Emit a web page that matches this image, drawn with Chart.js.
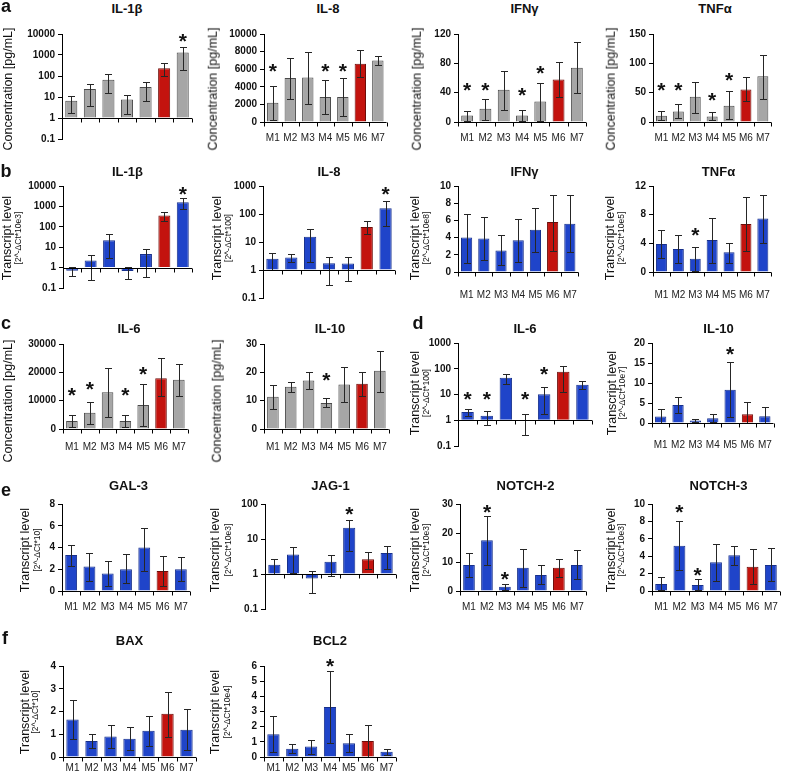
<!DOCTYPE html>
<html>
<head>
<meta charset="utf-8">
<script src="https://cdn.jsdelivr.net/npm/chart.js@4.4.0/dist/chart.umd.min.js"></script>
<style>
body { margin: 0; background: #fff; width: 787px; height: 773px; overflow: hidden; position: relative;
       font-family: "Liberation Sans", Arial, sans-serif; color: #111; }
.t { position: absolute; white-space: nowrap; line-height: 1; transform: translate(-50%, -50%); }
.r { transform: translate(-50%, -50%) rotate(-90deg); }
canvas { position: absolute; }
</style>
</head>
<body>
<script>
const months = ['M1', 'M2', 'M3', 'M4', 'M5', 'M6', 'M7'];

// a - protein, pg/mL
const il1bA = [6.6, 24, 66, 7.6, 30, 237, 1300];
const il1bALo = [1.7, 3.8, 15, 1.6, 6.6, 100, 200];
const il1bAHi = [11.5, 42, 118, 13, 50, 400, 2300];
const il1bAStar = [null, null, null, null, null, null, 8000];

const il8A = [2200, 5000, 5050, 2850, 2850, 6630, 7000];
const il8ALo = [200, 2650, 2050, 950, 650, 5060, 6440];
const il8AHi = [4100, 7250, 8000, 4750, 5050, 8130, 7450];
const il8AStar = [6400, null, null, 6400, 6400, null, null];

const ifngA = [9, 18, 44, 9, 28, 58, 74];
const ifngALo = [2, 3, 16, 2, 2, 34, 39];
const ifngAHi = [15, 32, 70, 16.5, 53, 82, 109];
const ifngAStar = [50, 50, null, 44, 73, null, null];

const tnfaA = [10.7, 18, 43, 9.5, 27.5, 55.6, 78];
const tnfaALo = [4, 7, 16, 3, 5, 35, 40];
const tnfaAHi = [18, 30, 68, 17, 53, 77, 115];
const tnfaAStar = [63, 63, null, 46, 80, null, null];

// b - transcripts
const il1bB = [0.7, 2.2, 22, 0.68, 4.6, 355, 1600];
const il1bBLo = [0.37, 0.24, 3, 0.29, 0.35, 200, 780];
const il1bBHi = [1.03, 4.1, 43, 1.07, 8.4, 510, 2500];
const il1bBStar = [null, null, null, null, null, null, 7500];

const il8B = [2.5, 2.8, 15.5, 1.75, 1.7, 34, 160];
const il8BLo = [1, 2, 2, 0.28, 0.39, 19, 37];
const il8BHi = [4.1, 3.6, 29, 3.0, 2.8, 56, 290];
const il8BStar = [null, null, null, null, null, null, 790];

const ifngB = [4.0, 3.9, 2.5, 3.7, 4.9, 5.8, 5.6];
const ifngBLo = [1.05, 1.4, 0.85, 1.2, 2.3, 2.5, 2.3];
const ifngBHi = [6.7, 6.4, 4.25, 6.2, 7.4, 9.0, 8.9];
const ifngBStar = [null, null, null, null, null, null, null];

const tnfaB = [3.9, 3.2, 1.85, 4.45, 2.75, 6.7, 7.45];
const tnfaBLo = [1.95, 1.25, 0.2, 1.25, 1.25, 2.95, 4.0];
const tnfaBHi = [5.85, 5.15, 3.55, 7.6, 4.0, 10.4, 10.8];
const tnfaBStar = [null, null, 5.8, null, null, null, null];

// c - protein
const il6C = [2840, 5700, 13000, 2840, 8500, 17900, 17400];
const il6CLo = [680, 1700, 4300, 680, 900, 11800, 11800];
const il6CHi = [4900, 9650, 21500, 5100, 16000, 25000, 23000];
const il6CStar = [13600, 16000, null, 13600, 21200, null, null];

const il10C = [11.4, 14.9, 17.1, 9.2, 15.7, 16, 20.6];
const il10CLo = [6.9, 13.2, 14, 7.7, 9.6, 11.7, 13.1];
const il10CHi = [15.7, 16.7, 20, 10.8, 21.8, 20, 27.5];
const il10CStar = [null, null, null, 19.2, null, null, null];

// d - transcripts
const il6D = [2.1, 1.5, 45, 1.0, 10.3, 77, 24];
const il6DLo = [1.5, 0.65, 25, 0.26, 1.7, 12, 17];
const il6DHi = [2.8, 2.3, 65, 1.8, 20, 130, 33];
const il6DStar = [10, 10, null, 10, 100, null, null];

const il10D = [1.65, 4.5, 0.65, 1.2, 8.3, 2.2, 1.7];
const il10DLo = [0, 2.5, 0.25, 0.2, 1.4, 0, 0];
const il10DHi = [3.45, 6.6, 1.05, 2.2, 15.2, 5.3, 3.9];
const il10DStar = [null, null, null, null, 18.4, null, null];

// e - transcripts
const gal3 = [3.3, 2.25, 1.6, 2.0, 4.0, 1.85, 2.0];
const gal3Lo = [2.3, 0.9, 0.45, 0.7, 1.85, 0.5, 0.9];
const gal3Hi = [4.2, 3.5, 2.75, 3.4, 5.8, 3.2, 3.15];
const gal3Star = [null, null, null, null, null, null, null];

const jag1 = [1.85, 3.6, 0.74, 2.25, 21, 2.65, 4.0];
const jag1Lo = [1.0, 1.04, 0.28, 0.9, 4.5, 1.36, 1.35];
const jag1Hi = [2.6, 6.0, 1.18, 3.5, 35, 4.3, 6.5];
const jag1Star = [null, null, null, null, 70, null, null];

const notch2 = [9, 17.5, 1.5, 8, 5.5, 8, 9];
const notch2Lo = [5, 9, 0.5, 1.5, 2.5, 5, 4];
const notch2Hi = [13, 26, 2.5, 14.5, 9, 11, 14];
const notch2Star = [null, 28.8, 5.8, null, null, null, null];

const notch3 = [0.8, 5.2, 0.7, 3.3, 4.1, 2.8, 3.0];
const notch3Lo = [0.1, 2.4, 0.1, 1.2, 3.0, 0.8, 1.1];
const notch3Hi = [1.6, 8.0, 1.4, 5.4, 5.2, 4.8, 4.9];
const notch3Star = [null, 9.6, 2.4, null, null, null, null];

// f - transcripts
const bax = [1.65, 0.7, 0.9, 0.8, 1.15, 1.9, 1.2];
const baxLo = [0.8, 0.4, 0.4, 0.3, 0.5, 0.9, 0.3];
const baxHi = [2.5, 1.0, 1.4, 1.3, 1.8, 2.85, 2.1];
const baxStar = [null, null, null, null, null, null, null];

const bcl2 = [1.5, 0.55, 0.7, 3.3, 0.9, 1.05, 0.35];
const bcl2Lo = [0.3, 0.25, 0.2, 0.9, 0.3, 0, 0.15];
const bcl2Hi = [2.7, 0.85, 1.15, 5.7, 1.5, 2.1, 0.55];
const bcl2Star = [null, null, null, 6.3, null, null, null];

const FONT = '"Liberation Sans", Arial, sans-serif';
const GREY = '#a6a6a6', GREY_EDGE = '#4a4a4a';
const BLUE = '#1f44c9', BLUE_EDGE = '#17308c';
const RED = '#c3130e', RED_EDGE = '#6e0c08';

function addText(txt, cx, cy, css, rotate) {
    const d = document.createElement('div');
    d.className = rotate ? 't r' : 't';
    d.textContent = txt;
    d.style.left = cx + 'px';
    d.style.top = cy + 'px';
    d.style.cssText += css;
    document.body.appendChild(d);
}

// error bars, stars and the category axis (Excel style, crossing at 0 or 1)
const decor = {
    id: 'decor',
    afterDatasetsDraw(chart, args, o) {
        const { ctx, chartArea: a } = chart;
        const y = chart.scales.y;
        const bars = chart.getDatasetMeta(0).data;
        ctx.save();
        ctx.strokeStyle = '#262626';
        ctx.lineWidth = 1;
        ctx.beginPath();
        bars.forEach((b, i) => {
            const x = Math.round(b.x) + 0.5;
            const yt = Math.round(y.getPixelForValue(o.hi[i])) + 0.5;
            const yb = Math.round(y.getPixelForValue(Math.max(o.lo[i], y.min))) + 0.5;
            ctx.moveTo(x, yt); ctx.lineTo(x, yb);
            ctx.moveTo(x - 3.5, yt); ctx.lineTo(x + 3.5, yt);
            ctx.moveTo(x - 3.5, yb); ctx.lineTo(x + 3.5, yb);
        });
        ctx.stroke();

        const cy = Math.round(y.getPixelForValue(o.cross)) + 0.5;
        ctx.strokeStyle = '#000';
        ctx.beginPath();
        ctx.moveTo(a.left, cy); ctx.lineTo(a.right, cy);
        const step = (a.right - a.left) / bars.length;
        for (let i = 0; i <= bars.length; i++) {
            const x = Math.round(a.left + i * step) + 0.5;
            ctx.moveTo(x, cy); ctx.lineTo(x, cy + 4);
        }
        ctx.stroke();

        ctx.fillStyle = '#111';
        ctx.font = 'bold 21px ' + FONT;
        ctx.textAlign = 'center';
        ctx.textBaseline = 'alphabetic';
        o.star.forEach((s, i) => {
            if (s != null) ctx.fillText('*', bars[i].x, y.getPixelForValue(s) + 0.57 * 21);
        });
        ctx.restore();
    }
};

function drawPanel(p) {
    const left = p.x0 - 48, top = p.y0 - 8;
    const bottom = Math.max(p.y1, p.ly + 8) + 2;
    const xH = bottom - p.y1;
    const cv = document.createElement('canvas');
    cv.width = p.x1 - left + 3;
    cv.height = bottom - top;
    cv.style.left = left + 'px';
    cv.style.top = top + 'px';
    document.body.appendChild(cv);

    const fill = months.map((m, i) => i === 5 ? RED : (p.grey ? GREY : BLUE));
    const edge = months.map((m, i) => i === 5 ? RED_EDGE : (p.grey ? GREY_EDGE : BLUE_EDGE));

    const yAxis = {
        type: p.log ? 'logarithmic' : 'linear',
        min: p.min,
        max: p.max,
        afterFit: s => { s.width = 48; },
        border: { display: true, color: '#000', width: 1 },
        grid: { drawOnChartArea: false, color: '#000', tickLength: 4 },
        ticks: {
            color: '#111', padding: 3,
            font: { family: FONT, size: 10, weight: 'bold' },
            callback: v => String(v)
        }
    };
    if (p.log) {
        yAxis.afterBuildTicks = s => {
            const t = [];
            for (let e = Math.round(Math.log10(p.min)); e <= Math.round(Math.log10(p.max)); e++) {
                t.push({ value: Math.pow(10, e) });
            }
            s.ticks = t;
        };
    } else {
        yAxis.ticks.stepSize = p.step;
    }

    new Chart(cv, {
        type: 'bar',
        data: {
            labels: months,
            datasets: [{
                data: p.v,
                base: p.log ? 1 : undefined,
                backgroundColor: fill,
                borderColor: edge,
                borderWidth: 1,
                barPercentage: 0.65,
                categoryPercentage: 1
            }]
        },
        options: {
            responsive: false,
            animation: false,
            devicePixelRatio: 1,
            layout: { padding: { top: 8, right: 3, left: 0, bottom: 0 } },
            plugins: {
                legend: { display: false },
                tooltip: { enabled: false },
                decor: { lo: p.lo, hi: p.hi, star: p.star, cross: p.log ? 1 : 0 }
            },
            scales: {
                x: {
                    afterFit: s => { s.height = xH; },
                    border: { display: false },
                    grid: { display: false, drawTicks: false },
                    ticks: {
                        color: '#222', autoSkip: false, maxRotation: 0,
                        padding: p.ly - p.y1 - 6,
                        font: { family: FONT, size: 10 }
                    }
                },
                y: yAxis
            }
        },
        plugins: [decor]
    });

    addText(p.title, (p.x0 + p.x1) / 2, p.tY, 'font-weight:bold;font-size:13px;');
    if (p.sub) {
        addText('Transcript level', p.tx, p.ty, 'font-size:12.5px;', true);
        addText(p.sub, p.sx, p.ty, 'font-size:8.5px;', true);
    } else {
        addText('Concentration [pg/mL]', p.tx, p.ty, 'font-size:12.5px;', true);
    }
}

const panels = [
    { title: 'IL-1β', v: il1bA, lo: il1bALo, hi: il1bAHi, star: il1bAStar, grey: true, log: true, min: 0.1, max: 10000,
      x0: 62, x1: 192, y0: 33, y1: 145, ly: 138, tY: 8, tx: 8, ty: 89 },
    { title: 'IL-8', v: il8A, lo: il8ALo, hi: il8AHi, star: il8AStar, grey: true, min: 0, max: 10000, step: 2000,
      x0: 264, x1: 392, y0: 33, y1: 122, ly: 138, tY: 8, tx: 213, ty: 89 },
    { title: 'IFNγ', v: ifngA, lo: ifngALo, hi: ifngAHi, star: ifngAStar, grey: true, min: 0, max: 120, step: 20,
      x0: 458, x1: 591, y0: 33, y1: 122, ly: 138, tY: 8, tx: 417, ty: 89 },
    { title: 'TNFα', v: tnfaA, lo: tnfaALo, hi: tnfaAHi, star: tnfaAStar, grey: true, min: 0, max: 150, step: 50,
      x0: 653, x1: 777, y0: 33, y1: 122, ly: 138, tY: 8, tx: 611, ty: 89 },

    { title: 'IL-1β', v: il1bB, lo: il1bBLo, hi: il1bBHi, star: il1bBStar, log: true, min: 0.1, max: 10000,
      x0: 63, x1: 192, y0: 185, y1: 292, ly: 287, tY: 171, tx: 7, sx: 18, ty: 238, sub: '[2^-ΔCt*10e3]' },
    { title: 'IL-8', v: il8B, lo: il8BLo, hi: il8BHi, star: il8BStar, log: true, min: 0.1, max: 1000,
      x0: 263, x1: 395, y0: 185, y1: 301, ly: 297, tY: 171, tx: 217, sx: 228, ty: 238, sub: '[2^-ΔCt*100]' },
    { title: 'IFNγ', v: ifngB, lo: ifngBLo, hi: ifngBHi, star: ifngBStar, min: 0, max: 10, step: 2,
      x0: 458, x1: 591, y0: 185, y1: 272, ly: 295, tY: 171, tx: 415, sx: 426, ty: 238, sub: '[2^-ΔCt*10e8]' },
    { title: 'TNFα', v: tnfaB, lo: tnfaBLo, hi: tnfaBHi, star: tnfaBStar, min: 0, max: 12, step: 2,
      x0: 653, x1: 784, y0: 185, y1: 272, ly: 295, tY: 171, tx: 610, sx: 621, ty: 238, sub: '[2^-ΔCt*10e5]' },

    { title: 'IL-6', v: il6C, lo: il6CLo, hi: il6CHi, star: il6CStar, grey: true, min: 0, max: 30000, step: 10000,
      x0: 63, x1: 195, y0: 343, y1: 429, ly: 447, tY: 328, tx: 8, ty: 401 },
    { title: 'IL-10', v: il10C, lo: il10CLo, hi: il10CHi, star: il10CStar, grey: true, min: 0, max: 30, step: 5,
      x0: 264, x1: 396, y0: 343, y1: 429, ly: 447, tY: 328, tx: 217, ty: 401 },
    { title: 'IL-6', v: il6D, lo: il6DLo, hi: il6DHi, star: il6DStar, log: true, min: 0.1, max: 1000,
      x0: 458, x1: 592, y0: 342, y1: 450, ly: 445, tY: 328, tx: 415, sx: 426, ty: 393, sub: '[2^-ΔCt*100]' },
    { title: 'IL-10', v: il10D, lo: il10DLo, hi: il10DHi, star: il10DStar, min: 0, max: 20, step: 5,
      x0: 652, x1: 785, y0: 342, y1: 423, ly: 445, tY: 328, tx: 612, sx: 622, ty: 393, sub: '[2^-ΔCt*10e7]' },

    { title: 'GAL-3', v: gal3, lo: gal3Lo, hi: gal3Hi, star: gal3Star, min: 0, max: 8, step: 2,
      x0: 62, x1: 195, y0: 503, y1: 591, ly: 607, tY: 485, tx: 25, sx: 37, ty: 550, sub: '[2^-ΔCt*10]' },
    { title: 'JAG-1', v: jag1, lo: jag1Lo, hi: jag1Hi, star: jag1Star, log: true, min: 0.1, max: 100,
      x0: 265, x1: 396, y0: 503, y1: 616, ly: 607, tY: 485, tx: 215, sx: 228, ty: 550, sub: '[2^-ΔCt*10e3]' },
    { title: 'NOTCH-2', v: notch2, lo: notch2Lo, hi: notch2Hi, star: notch2Star, min: 0, max: 30, step: 5,
      x0: 460, x1: 591, y0: 503, y1: 591, ly: 607, tY: 485, tx: 415, sx: 426, ty: 550, sub: '[2^-ΔCt*10e3]' },
    { title: 'NOTCH-3', v: notch3, lo: notch3Lo, hi: notch3Hi, star: notch3Star, min: 0, max: 10, step: 2,
      x0: 652, x1: 785, y0: 503, y1: 591, ly: 607, tY: 485, tx: 611, sx: 621, ty: 550, sub: '[2^-ΔCt*10e3]' },

    { title: 'BAX', v: bax, lo: baxLo, hi: baxHi, star: baxStar, min: 0, max: 4, step: 1,
      x0: 63, x1: 196, y0: 665, y1: 757, ly: 768, tY: 640, tx: 25, sx: 35, ty: 712, sub: '[2^-ΔCt*10]' },
    { title: 'BCL2', v: bcl2, lo: bcl2Lo, hi: bcl2Hi, star: bcl2Star, min: 0, max: 6, step: 1,
      x0: 264, x1: 396, y0: 665, y1: 757, ly: 768, tY: 640, tx: 215, sx: 227, ty: 712, sub: '[2^-ΔCt*10e4]' }
];

panels.forEach(drawPanel);

[['a', 6, 6], ['b', 6, 171], ['c', 6, 323], ['d', 418, 323], ['e', 6, 490], ['f', 5, 638]]
    .forEach(l => addText(l[0], l[1], l[2], 'font-weight:bold;font-size:18px;'));
</script>
</body>
</html>
